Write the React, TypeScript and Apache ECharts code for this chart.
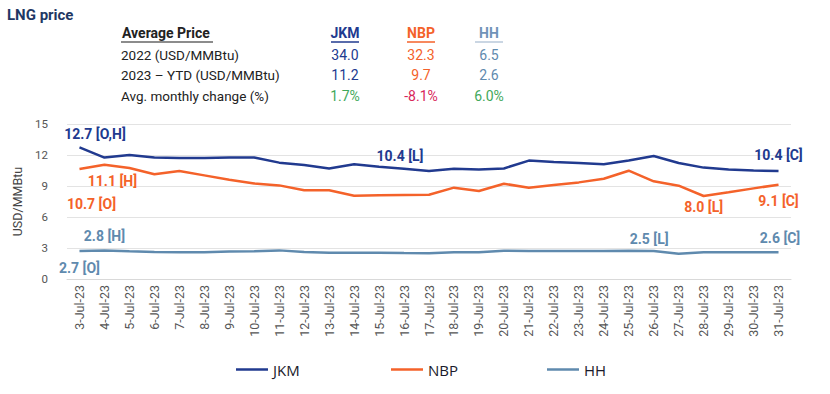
import React, { useEffect, useRef } from "react";
import * as echarts from "echarts";

const dates = [
  "3-Jul-23","4-Jul-23","5-Jul-23","6-Jul-23","7-Jul-23","8-Jul-23","9-Jul-23","10-Jul-23",
  "11-Jul-23","12-Jul-23","13-Jul-23","14-Jul-23","15-Jul-23","16-Jul-23","17-Jul-23","18-Jul-23",
  "19-Jul-23","20-Jul-23","21-Jul-23","22-Jul-23","23-Jul-23","24-Jul-23","25-Jul-23","26-Jul-23",
  "27-Jul-23","28-Jul-23","29-Jul-23","30-Jul-23","31-Jul-23",
];
const jkm = [12.73, 11.75, 12.0, 11.75, 11.7, 11.7, 11.75, 11.75, 11.26, 11.03, 10.7, 11.1, 10.87, 10.68, 10.45,
  10.68, 10.6, 10.7, 11.46, 11.33, 11.23, 11.1, 11.46, 11.9, 11.23, 10.78, 10.6, 10.5, 10.45];
const nbp = [10.65, 11.06, 10.74, 10.13, 10.45, 10.03, 9.6, 9.25, 9.06, 8.58, 8.58, 8.06, 8.1, 8.13, 8.16,
  8.84, 8.52, 9.22, 8.84, 9.1, 9.35, 9.7, 10.48, 9.45, 9.03, 8.03, 8.39, 8.77, 9.13];
const hh = [2.71, 2.77, 2.68, 2.62, 2.58, 2.6, 2.65, 2.68, 2.77, 2.62, 2.55, 2.55, 2.55, 2.52, 2.5,
  2.58, 2.58, 2.74, 2.72, 2.7, 2.7, 2.72, 2.74, 2.7, 2.45, 2.6, 2.6, 2.6, 2.6];
const yTicks = { min: 0, max: 15, interval: 3 };

// annotations: [index, text, offsetX, offsetY]
const jkmNotes: [number, string, number, number][] = [
  [0, "12.7 [O,H]", 15.5, -13],
  [14, "10.4 [L]", -29, -15],
  [28, "10.4 [C]", 0, -16],
];
const nbpNotes: [number, string, number, number][] = [
  [1, "11.1 [H]", 8, 16],
  [0, "10.7 [O]", 12, 35],
  [25, "8.0 [L]", 0, 11],
  [28, "9.1 [C]", 0, 16],
];
const hhNotes: [number, string, number, number][] = [
  [1, "2.8 [H]", 0, -14],
  [0, "2.7 [O]", 0, 17],
  [24, "2.5 [L]", -29.5, -15],
  [28, "2.6 [C]", 1.5, -14],
];

const tableHeaders = ["JKM", "NBP", "HH"];
const tableRows = ["2022 (USD/MMBtu)", "2023 – YTD (USD/MMBtu)", "Avg. monthly change (%)"];
const row2022 = ["34.0", "32.3", "6.5"];
const rowYtd = ["11.2", "9.7", "2.6"];
const rowChange = ["1.7%", "-8.1%", "6.0%"];

const C_JKM = "#213a8f";
const C_NBP = "#f4622a";
const C_HH = "#5f8aae";
const FONT = "Roboto, 'Noto Sans', sans-serif";

export default function App() {
  const ref = useRef<HTMLDivElement>(null);
  useEffect(() => {
    if (!ref.current) return;
    const chart = echarts.init(ref.current, undefined, { renderer: "svg" });
    const colX = [345, 421, 489];
    const headColors = [C_JKM, C_NBP, "#6f93b8"];
    const underColors = [C_JKM, C_NBP, "#b9c9da"];
    const valColors = [C_JKM, C_NBP, C_HH];
    const changeColors = ["#3fa85a", "#d8265a", "#3fa85a"];
    const graphics: any[] = [
      { type: "text", left: 7, top: 7, style: { text: "LNG price", font: `bold 15px ${FONT}`, fill: "#1f3864" } },
      { type: "text", x: 122, y: 33, style: { text: "Average Price", font: `bold 14px ${FONT}`, fill: "#222", textVerticalAlign: "middle" } },
      { type: "line", shape: { x1: 121, y1: 42, x2: 213, y2: 42 }, style: { stroke: "#666", lineWidth: 1.5 } },
    ];
    tableHeaders.forEach((h, i) => {
      graphics.push({ type: "text", x: colX[i], y: 33, style: { text: h, font: `bold 14px ${FONT}`, fill: headColors[i], textAlign: "center", textVerticalAlign: "middle" } });
      graphics.push({ type: "line", shape: { x1: colX[i] - 14, y1: 42, x2: colX[i] + 14, y2: 42 }, style: { stroke: underColors[i], lineWidth: 1.5 } });
    });
    const rowsVals = [row2022, rowYtd, rowChange];
    const rowY = [55, 75, 96];
    tableRows.forEach((r, ri) => {
      graphics.push({ type: "text", x: 121, y: rowY[ri], style: { text: r, font: `13.5px ${FONT}`, fill: "#222", textVerticalAlign: "middle" } });
      rowsVals[ri].forEach((v, ci) => {
        graphics.push({ type: "text", x: colX[ci], y: rowY[ri], style: { text: v, font: `14px ${FONT}`, fill: ri === 2 ? changeColors[ci] : valColors[ci], textAlign: "center", textVerticalAlign: "middle" } });
      });
    });

    const mk = (arr: number[], notes: [number, string, number, number][], color: string) => ({
      symbol: "circle",
      symbolSize: 0,
      silent: true,
      label: { show: true, position: "inside", color, fontFamily: FONT, fontSize: 14, fontWeight: "bold" },
      data: notes.map(([i, t, dx, dy]) => ({
        coord: [i, arr[i]],
        value: arr[i],
        label: { formatter: t, offset: [dx, dy] },
      })),
    });

    const line = (name: string, data: number[], color: string, notes: any) => ({
      name,
      type: "line",
      data,
      showSymbol: false,
      symbol: "none",
      lineStyle: { color, width: 2.5 },
      itemStyle: { color },
      markPoint: mk(data, notes, color),
    });

    chart.setOption({
      animation: false,
      graphic: graphics,
      legend: [
        { data: ["JKM"], left: 231, top: 357 },
        { data: ["NBP"], left: 386, top: 357 },
        { data: ["HH"], left: 542, top: 357 },
      ].map((l) => ({
        ...l,
        icon: "rect",
        itemWidth: 32,
        itemHeight: 2.5,
        itemGap: 4,
        textStyle: { fontSize: 15, color: "#1a1a2a", fontFamily: "'Open Sans', sans-serif" },
      })),
      grid: { left: 67, right: 39, top: 124, bottom: 115 },
      xAxis: {
        type: "category",
        data: dates,
        boundaryGap: true,
        axisLine: { lineStyle: { color: "#d9d9d9" } },
        axisTick: { show: false },
        axisLabel: { rotate: 90, fontSize: 12.5, color: "#555", fontFamily: FONT, margin: 6, interval: 0 },
      },
      yAxis: {
        type: "value",
        min: yTicks.min,
        max: yTicks.max,
        interval: yTicks.interval,
        name: "USD/MMBtu",
        nameLocation: "middle",
        nameGap: 30,
        nameTextStyle: { fontSize: 12.5, color: "#444", fontFamily: FONT },
        axisLabel: { fontSize: 11.5, color: "#555", fontFamily: FONT, margin: 19 },
        splitLine: { lineStyle: { color: "#e3e3e3" } },
      },
      series: [
        line("JKM", jkm, C_JKM, jkmNotes),
        line("NBP", nbp, C_NBP, nbpNotes),
        line("HH", hh, C_HH, hhNotes),
      ],
    });
    return () => chart.dispose();
  }, []);
  return <div ref={ref} style={{ width: 830, height: 394, position: "absolute", left: 0, top: 0 }} />;
}
